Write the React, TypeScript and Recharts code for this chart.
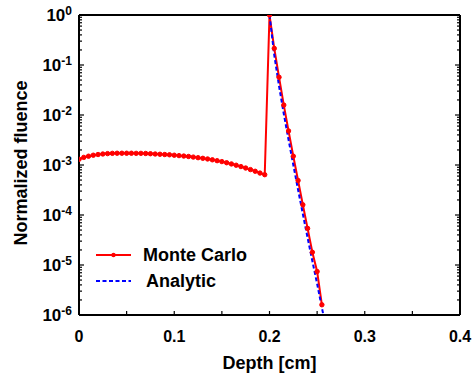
import { LineChart, Line, XAxis, YAxis } from "recharts";

const FONT = '"Liberation Sans", Arial, Helvetica, sans-serif';
const RED = "#ff0000";
const BLUE = "#0000ff";

// Monte Carlo depth samples [cm] and normalized fluence
const depthMC = [
  0, 0.005, 0.01, 0.015, 0.02, 0.025, 0.03, 0.035, 0.04, 0.045,
  0.05, 0.055, 0.06, 0.065, 0.07, 0.075, 0.08, 0.085, 0.09, 0.095,
  0.1, 0.105, 0.11, 0.115, 0.12, 0.125, 0.13, 0.135, 0.14, 0.145,
  0.15, 0.155, 0.16, 0.165, 0.17, 0.175, 0.18, 0.185, 0.19, 0.195,
  0.2, 0.205, 0.21, 0.215, 0.22, 0.225, 0.23, 0.235, 0.24, 0.245,
  0.25, 0.255,
];
const fluenceMC = [
  1.3e-3, 1.42e-3, 1.5e-3, 1.57e-3, 1.62e-3, 1.66e-3, 1.69e-3, 1.71e-3, 1.72e-3, 1.72e-3,
  1.72e-3, 1.72e-3, 1.71e-3, 1.71e-3, 1.7e-3, 1.68e-3, 1.66e-3, 1.64e-3, 1.62e-3, 1.6e-3,
  1.57e-3, 1.54e-3, 1.51e-3, 1.48e-3, 1.44e-3, 1.4e-3, 1.36e-3, 1.32e-3, 1.27e-3, 1.22e-3,
  1.17e-3, 1.11e-3, 1.05e-3, 9.9e-4, 9.3e-4, 8.7e-4, 8.1e-4, 7.5e-4, 6.9e-4, 6.4e-4,
  1, 0.215, 0.057, 0.0158, 0.0048, 0.0015, 4.9e-4, 1.6e-4, 5.4e-5, 1.8e-5,
  7.4e-6, 1.6e-6,
];

// Analytic solution (tail only)
const depthAnalytic = [0.2, 0.205, 0.21, 0.215, 0.22, 0.225, 0.23, 0.235, 0.24, 0.245, 0.25, 0.255, 0.26];
const fluenceAnalytic = [1, 0.158, 0.038, 0.0105, 0.0032, 0.001, 3.2e-4, 1.05e-4, 3.5e-5, 1.2e-5, 4.2e-6, 1.4e-6, 4.8e-7];

const xTicks = [0, 0.05, 0.1, 0.15, 0.2, 0.25, 0.3, 0.35, 0.4];
const yDecades = [1e-6, 1e-5, 1e-4, 1e-3, 1e-2, 1e-1, 1];
const yMultipliers = [2, 3, 4, 5, 6, 7, 8, 9];

const mcData = depthMC.map((d, i) => ({ depth: d, value: fluenceMC[i] }));
const anData = depthAnalytic.map((d, i) => ({ depth: d, value: fluenceAnalytic[i] }));
const yTicks = [
  ...yDecades,
  ...yDecades.slice(0, -1).flatMap((d) => yMultipliers.map((m) => m * d)),
];

const isDecade = (v: number) => {
  const l = Math.log10(v);
  return Math.abs(l - Math.round(l)) < 1e-6;
};
const isTenth = (v: number) => Math.abs(v * 10 - Math.round(v * 10)) < 1e-6;

// x,y arrive at the axis line because tickSize and tickMargin are 0
function LeftTick({ x, y, payload }: any) {
  const v = payload.value;
  const major = isDecade(v);
  return (
    <g>
      <path d={`M${x},${y}h${major ? 5 : 3}`} stroke="#000" strokeWidth={1.2} fill="none" />
      {major && (
        <text x={x - 7} y={y + 6} textAnchor="end" fontFamily={FONT} fontWeight="bold" fontSize={17} fill="#000">
          10<tspan dy={-6} fontSize={12}>{String(Math.round(Math.log10(v)))}</tspan>
        </text>
      )}
    </g>
  );
}

function RightTick({ x, y, payload }: any) {
  const major = isDecade(payload.value);
  return <path d={`M${x},${y}h${major ? -5 : -3}`} stroke="#000" strokeWidth={1.2} fill="none" />;
}

function BottomTick({ x, y, payload }: any) {
  const v = payload.value;
  return (
    <g>
      <path d={`M${x},${y}v-4`} stroke="#000" strokeWidth={1.2} fill="none" />
      {isTenth(v) && (
        <text x={x} y={y + 27} textAnchor="middle" fontFamily={FONT} fontWeight="bold" fontSize={16} fill="#000">
          {v === 0 ? "0" : v.toFixed(1)}
        </text>
      )}
    </g>
  );
}

function TopTick({ x, y }: any) {
  return <path d={`M${x},${y}v4`} stroke="#000" strokeWidth={1.2} fill="none" />;
}

export default function App() {
  const axisLine = { stroke: "#000", strokeWidth: 2 };
  return (
    <div style={{ position: "absolute", left: 0, top: 0, width: 474, height: 374, background: "#fff" }}>
      <LineChart width={474} height={374} margin={{ top: 14, right: 13, bottom: 58, left: 0 }}>
        <XAxis
          dataKey="depth"
          type="number"
          domain={[0, 0.4]}
          ticks={xTicks}
          interval={0}
          height={1}
          tickSize={0}
          tickMargin={0}
          tickLine={false}
          axisLine={axisLine}
          tick={<BottomTick />}
          allowDataOverflow
          label={(p: any) => (
            <text
              x={p.viewBox.x + p.viewBox.width / 2}
              y={p.viewBox.y + 54}
              textAnchor="middle"
              fontFamily={FONT}
              fontWeight="bold"
              fontSize={18}
              fill="#000"
            >
              Depth [cm]
            </text>
          )}
        />
        <XAxis
          xAxisId="top"
          orientation="top"
          dataKey="depth"
          type="number"
          domain={[0, 0.4]}
          ticks={xTicks}
          interval={0}
          height={1}
          tickSize={0}
          tickMargin={0}
          tickLine={false}
          axisLine={axisLine}
          tick={<TopTick />}
        />
        <YAxis
          type="number"
          scale="log"
          domain={[1e-6, 1]}
          ticks={yTicks}
          interval={0}
          width={79}
          tickSize={0}
          tickMargin={0}
          tickLine={false}
          axisLine={axisLine}
          tick={<LeftTick />}
          allowDataOverflow
          label={(p: any) => {
            const cx = 26.5;
            const cy = p.viewBox.y + p.viewBox.height / 2 - 2;
            return (
              <text
                x={cx}
                y={cy}
                transform={`rotate(-90 ${cx} ${cy})`}
                textAnchor="middle"
                fontFamily={FONT}
                fontWeight="bold"
                fontSize={18}
                fill="#000"
              >
                Normalized fluence
              </text>
            );
          }}
        />
        <YAxis
          yAxisId="right"
          orientation="right"
          type="number"
          scale="log"
          domain={[1e-6, 1]}
          ticks={yTicks}
          interval={0}
          width={1}
          tickSize={0}
          tickMargin={0}
          tickLine={false}
          axisLine={axisLine}
          tick={<RightTick />}
          allowDataOverflow
        />
        <Line
          data={mcData}
          dataKey="value"
          stroke={RED}
          strokeWidth={2}
          dot={{ r: 2.2, fill: RED, stroke: RED, strokeWidth: 1 }}
          isAnimationActive={false}
        />
        <Line
          data={anData}
          dataKey="value"
          stroke={BLUE}
          strokeWidth={2}
          strokeDasharray="4 2.5"
          dot={false}
          isAnimationActive={false}
        />
      </LineChart>
      <div style={{ position: "absolute", left: 96, top: 244, fontFamily: FONT, fontWeight: "bold", fontSize: 18, color: "#000" }}>
        <div style={{ display: "flex", alignItems: "center", height: 22 }}>
          <svg width={35} height={10}>
            <line x1={0} x2={35} y1={5} y2={5} stroke={RED} strokeWidth={2} />
            <circle cx={17.5} cy={5} r={2.2} fill={RED} />
          </svg>
          <span style={{ marginLeft: 12, whiteSpace: "nowrap" }}>Monte Carlo</span>
        </div>
        <div style={{ display: "flex", alignItems: "center", height: 22, marginTop: 4 }}>
          <svg width={35} height={10}>
            <line x1={0} x2={35} y1={5} y2={5} stroke={BLUE} strokeWidth={2} strokeDasharray="4 2.5" />
          </svg>
          <span style={{ marginLeft: 15, whiteSpace: "nowrap" }}>Analytic</span>
        </div>
      </div>
    </div>
  );
}
